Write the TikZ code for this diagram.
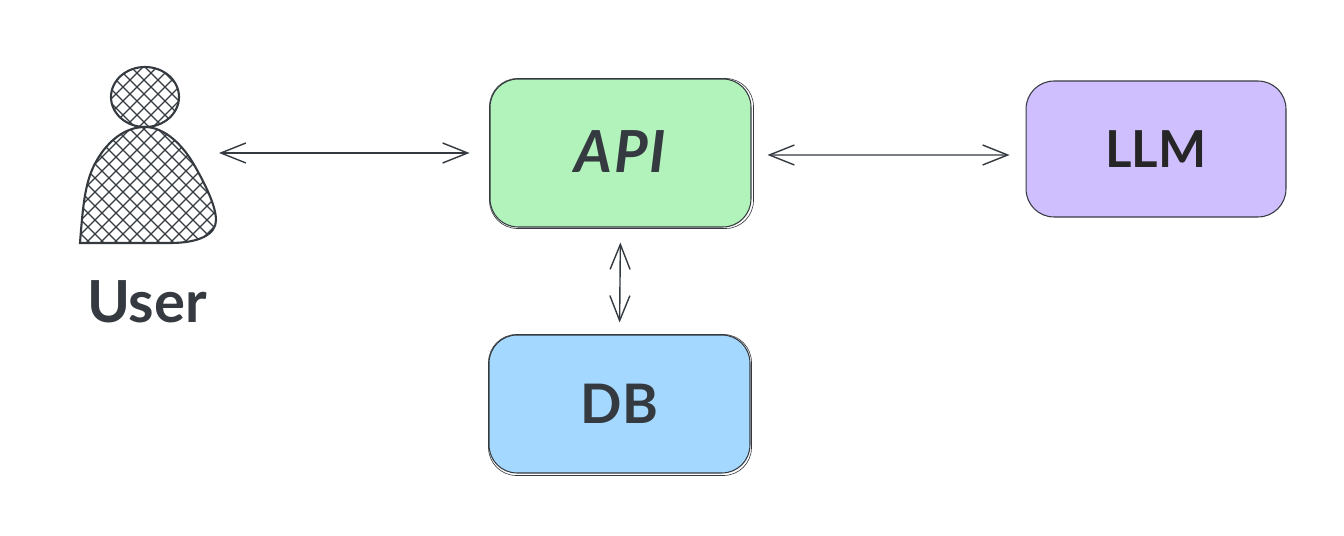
\documentclass[tikz,border=0pt]{standalone}
\usepackage{xcolor}
\usepackage{fontspec}
\usepackage{tikz}
\usetikzlibrary{arrows.meta}
\newfontfamily\handfont{Lato Bold}
\definecolor{inkdark}{HTML}{343A40}
\definecolor{apigreen}{HTML}{B2F2BB}
\definecolor{dbblue}{HTML}{A5D8FF}
\definecolor{llmpurple}{HTML}{D0BFFF}
\tikzset{
  boxnode/.style={draw=inkdark, line width=0.6pt, rounded corners=0.56cm, text=inkdark,
    font=\handfont\fontsize{29}{32}\selectfont},
  sketchline/.style={draw=inkdark, line width=0.35pt, rounded corners=0.56cm},
  linkarrow/.style={draw=inkdark, line width=0.8pt, {Straight Barb[length=0.5cm,width=0.4cm]}-{Straight Barb[length=0.5cm,width=0.4cm]}},
  hatchline/.style={draw=inkdark, line width=0.65pt},
  outlineline/.style={draw=inkdark, line width=1.2pt}
}
\def\headpath{(145,97) ellipse [x radius=34, y radius=30]}
\def\bodypath{(80,243) .. controls (83,205) and (85,180) .. (97,160) .. controls (108,141) and (125,127) .. (145,127) .. controls (165,127) and (183,146) .. (193,163) .. controls (203,180) and (216,205) .. (216,220) .. controls (216,234) and (200,243) .. (170,243) -- cycle}
\begin{document}
\begin{tikzpicture}[x=0.02cm,y=-0.02cm]
\useasboundingbox (0,0) rectangle (1344,536);
% boxes
\node[boxnode, fill=apigreen, minimum width=5.22cm, minimum height=2.96cm, font=\handfont\fontsize{33}{36}\selectfont] (api) at (620.5,153) {\raisebox{0.05cm}{\itshape\addfontfeature{LetterSpace=3}API}};
\node[boxnode, fill=llmpurple, minimum width=5.2cm, minimum height=2.72cm, text=black!85] (llm) at (1156,149) {LLM};
\node[boxnode, fill=dbblue, minimum width=5.22cm, minimum height=2.76cm, font=\handfont\fontsize{31}{34}\selectfont] (db) at (619.5,404) {DB};
%
\draw[sketchline] (api.north west) rectangle ([shift={(2,1)}]api.south east);
\draw[sketchline] (db.north west) rectangle ([shift={(1,2)}]db.south east);
% person
\begin{scope}
\clip \headpath;
\foreach \k in {0,...,45} {
  \draw[hatchline] (-300+14*\k,0)--(-300+14*\k+300,300);
  \draw[hatchline] (-300+14*\k,300)--(-300+14*\k+300,0);
}
\end{scope}
\begin{scope}
\clip \bodypath;
\foreach \k in {0,...,45} {
  \draw[hatchline] (-293+14*\k,0)--(-293+14*\k+300,300);
  \draw[hatchline] (-293+14*\k,300)--(-293+14*\k+300,0);
}
\end{scope}
\draw[outlineline] \headpath;
\draw[outlineline] \bodypath;
\node[text=inkdark, font=\handfont\fontsize{33}{36}\selectfont] (user) at (147,302) {User};
% arrows
\coordinate (userside) at (219,153);
\draw[linkarrow, shorten >=0.4cm] (userside) -- (api.west);
\draw[linkarrow, shorten <=0.32cm, shorten >=0.32cm] ([yshift=-0.04cm]api.east) -- ([yshift=-0.12cm]llm.west);
\draw[linkarrow, shorten <=0.3cm, shorten >=0.24cm] (api.south) -- (db.north);
\end{tikzpicture}
\end{document}
